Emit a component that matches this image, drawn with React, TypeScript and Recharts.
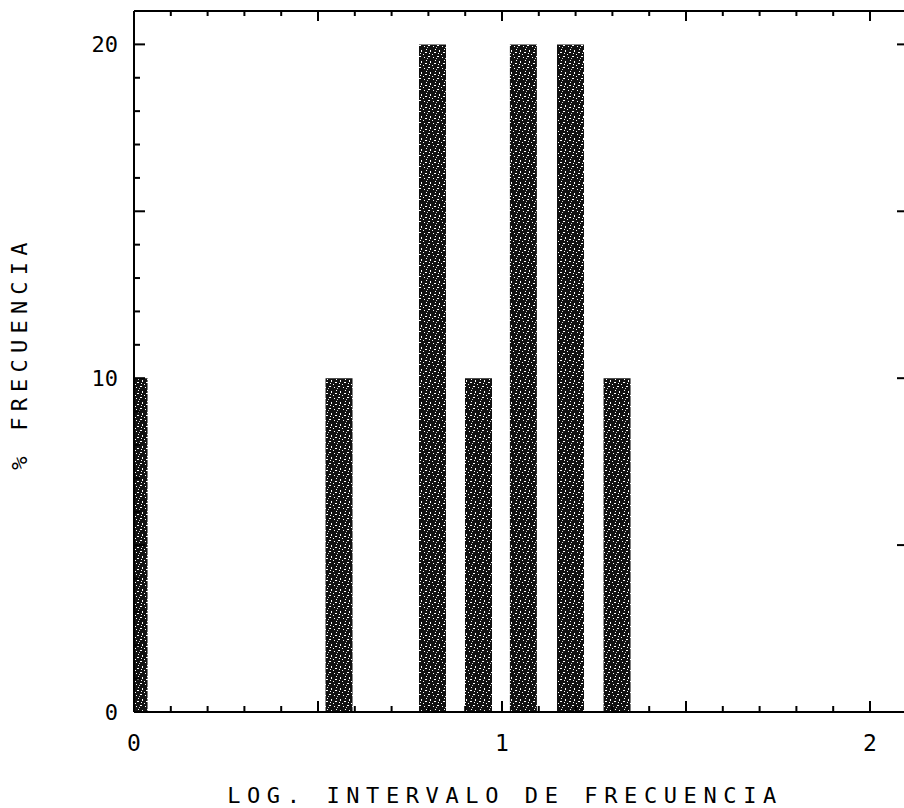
import React from "react";
import { BarChart, Bar, XAxis, YAxis, Label } from "recharts";

const binCenters = [0, 0.557, 0.811, 0.936, 1.058, 1.186, 1.3125];
const frequencies = [10, 10, 20, 10, 20, 20, 10];
const xTicks = [0, 0.1, 0.2, 0.3, 0.4, 0.5, 0.6, 0.7, 0.8, 0.9, 1, 1.1, 1.2, 1.3, 1.4, 1.5, 1.6, 1.7, 1.8, 1.9, 2];
const xTickLabels = ["0", "1", "2"];
const yTicksLeft = [0, 1, 2, 3, 4, 5, 6, 7, 8, 9, 10, 11, 12, 13, 14, 15, 16, 17, 18, 19, 20];
const yTicksRight = [5, 10, 15, 20];
const yTickLabels = ["0", "10", "20"];
const xTitle = "LOG. INTERVALO DE FRECUENCIA";
const yTitle = "% FRECUENCIA";

const data = binCenters.map((x, i) => ({ x, y: frequencies[i] }));

const FONT = "'DejaVu Sans Mono', 'Liberation Mono', monospace";
const isMajor = (v: number, step: number) => Math.abs(v / step - Math.round(v / step)) < 1e-6;

const BottomTick = (props: any) => {
  const { x, y, payload } = props;
  const v = payload.value;
  const len = isMajor(v, 0.5) ? 11 : 6;
  const label = isMajor(v, 1) ? xTickLabels.find((t) => Number(t) === Math.round(v)) : null;
  return (
    <g>
      <rect x={x - 1} y={y - len} width={2} height={len} fill="#000" />
      {label != null && (
        <text x={x} y={y + 39} textAnchor="middle" fontFamily={FONT} fontSize={23} fill="#000">
          {label}
        </text>
      )}
    </g>
  );
};

const TopTick = (props: any) => {
  const { x, y, payload } = props;
  const len = isMajor(payload.value, 0.5) ? 10 : 5;
  return (
    <g>
      <rect x={x - 1} y={y} width={2} height={len} fill="#000" />
    </g>
  );
};

const LeftTick = (props: any) => {
  const { x, y, payload } = props;
  const v = payload.value;
  const len = isMajor(v, 5) ? 11 : 6;
  const label = yTickLabels.find((t) => Number(t) === v);
  return (
    <g>
      <rect x={x} y={y - 1} width={len} height={2} fill="#000" />
      {label != null && (
        <text x={x - 16} y={y + 8} textAnchor="end" fontFamily={FONT} fontSize={22} fill="#000">
          {label}
        </text>
      )}
    </g>
  );
};

const RightTick = (props: any) => {
  const { x, y } = props;
  return (
    <g>
      <rect x={x - 7} y={y - 1} width={7} height={2} fill="#000" />
    </g>
  );
};

export default function App() {
  return (
    <div style={{ position: "absolute", left: 0, top: 0, width: 904, height: 808, overflow: "hidden", background: "#fff" }}>
      <BarChart
        width={906}
        height={808}
        data={data}
        margin={{ top: 10, right: 0, left: 0, bottom: 0 }}
        barSize={27}
      >
        <defs>
          <pattern id="dither" width="9" height="11" patternUnits="userSpaceOnUse">
            <rect width="9" height="11" fill="#111" />
            <rect x="1" y="2" width="1" height="1" fill="#fff" />
            <rect x="5" y="1" width="2" height="1" fill="#fff" />
            <rect x="3" y="5" width="1" height="1" fill="#fff" />
            <rect x="7" y="6" width="1" height="2" fill="#fff" />
            <rect x="2" y="8" width="2" height="1" fill="#fff" />
            <rect x="6" y="9" width="1" height="1" fill="#fff" />
            <rect x="0" y="10" width="1" height="1" fill="#fff" />
            <rect x="4" y="3" width="1" height="1" fill="#ccc" />
          </pattern>
        </defs>
        <XAxis
          xAxisId="bottom"
          dataKey="x"
          type="number"
          orientation="bottom"
          domain={[0, 2.0924]}
          allowDataOverflow
          ticks={xTicks}
          interval={0}
          height={96}
          tickSize={0}
          tickMargin={0}
          tickLine={false}
          axisLine={{ stroke: "#000", strokeWidth: 2 }}
          tick={<BottomTick />}
        >
          <Label
            content={() => (
              <text
                x={505}
                y={803}
                textAnchor="middle"
                fontFamily={FONT}
                fontSize={22}
                letterSpacing={6.6}
                fill="#000"
              >
                {xTitle}
              </text>
            )}
          />
        </XAxis>
        <XAxis
          xAxisId="top"
          dataKey="x"
          type="number"
          orientation="top"
          domain={[0, 2.0924]}
          allowDataOverflow
          ticks={xTicks}
          interval={0}
          height={1}
          tickSize={0}
          tickMargin={0}
          tickLine={false}
          axisLine={{ stroke: "#000", strokeWidth: 2 }}
          tick={<TopTick />}
        />
        <YAxis
          yAxisId="left"
          type="number"
          orientation="left"
          domain={[0, 21]}
          allowDataOverflow
          ticks={yTicksLeft}
          interval={0}
          width={134}
          tickSize={0}
          tickMargin={0}
          tickLine={false}
          axisLine={{ stroke: "#000", strokeWidth: 2 }}
          tick={<LeftTick />}
        >
          <Label
            content={() => (
              <text
                x={19}
                y={353}
                transform="rotate(-90, 19, 353)"
                textAnchor="middle"
                dominantBaseline="central"
                fontFamily={FONT}
                fontSize={22}
                letterSpacing={6.2}
                fill="#000"
              >
                {yTitle}
              </text>
            )}
          />
        </YAxis>
        <YAxis
          yAxisId="right"
          type="number"
          orientation="right"
          domain={[0, 21]}
          allowDataOverflow
          ticks={yTicksRight}
          interval={0}
          width={2}
          tickSize={0}
          tickMargin={0}
          tickLine={false}
          axisLine={false}
          tick={<RightTick />}
        />
        <Bar
          xAxisId="bottom"
          yAxisId="left"
          dataKey="y"
          fill="url(#dither)"
          isAnimationActive={false}
        />
      </BarChart>
    </div>
  );
}
